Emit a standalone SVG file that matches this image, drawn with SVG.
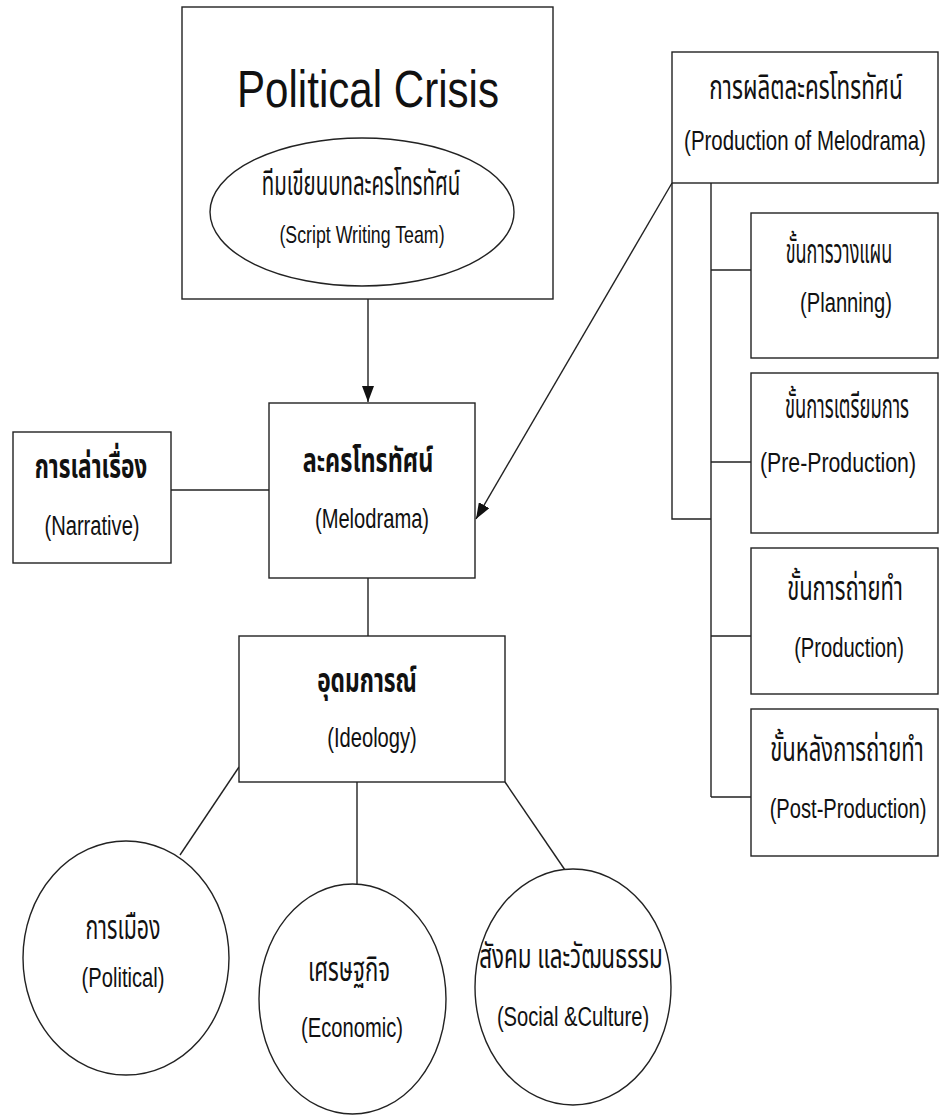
<svg xmlns="http://www.w3.org/2000/svg" width="939" height="1115" viewBox="0 0 939 1115">
<defs>
<marker id="arr" markerUnits="userSpaceOnUse" markerWidth="18" markerHeight="12" refX="16" refY="6" orient="auto">
<path d="M0,0 L16,6 L0,12 Z" fill="#111"/>
</marker>
<style>
.box{fill:#fff;stroke:#222;stroke-width:1.4}
.ln{fill:none;stroke:#222;stroke-width:1.4}
.en{font-family:"Liberation Sans",Arial,sans-serif;font-size:28px;fill:#111;text-anchor:middle}
.th{font-family:"Noto Sans Thai","Noto Sans","DejaVu Sans",sans-serif;font-size:34px;fill:#111;text-anchor:middle}
.b{font-weight:bold}
</style>
</defs>
<rect width="939" height="1115" fill="#fff"/>
<g id="connectors">
<line class="ln" x1="368" y1="299" x2="368" y2="402" marker-end="url(#arr)"/>
<line class="ln" x1="672" y1="183" x2="476" y2="519" marker-end="url(#arr)"/>
<line class="ln" x1="171" y1="490" x2="269" y2="490"/>
<line class="ln" x1="368" y1="578" x2="368" y2="636"/>
<line class="ln" x1="239" y1="767" x2="180" y2="855"/>
<line class="ln" x1="357" y1="782" x2="357" y2="884"/>
<line class="ln" x1="505" y1="782" x2="565" y2="870"/>
<path class="ln" d="M672,183 V519 H711"/>
<path class="ln" d="M711,183 V797 M711,270 H751 M711,462 H751 M711,636 H751 M711,797 H751"/>
</g>
<g id="political-crisis">
<rect class="box" x="182" y="7" width="371" height="292"/>
<text class="en" style="font-size:52px" transform="translate(368,107) scale(0.81,1)">Political Crisis</text>
</g>
<g id="script-team">
<ellipse class="box" cx="362" cy="212" rx="152" ry="74"/>
<text class="th" transform="translate(361,195) scale(0.6,1)">ทีมเขียนบทละครโทรทัศน์</text>
<text class="en" style="font-size:24px" transform="translate(362,243) scale(0.74,1)">(Script Writing Team)</text>
</g>
<g id="production">
<rect class="box" x="672" y="52" width="266" height="131"/>
<text class="th" transform="translate(806,99) scale(0.66,1)">การผลิตละครโทรทัศน์</text>
<text class="en" transform="translate(805,150) scale(0.73,1)">(Production of Melodrama)</text>
</g>
<g id="planning">
<rect class="box" x="751" y="213" width="187" height="145"/>
<text class="th" transform="translate(839,263) scale(0.53,1)">ขั้นการวางแผน</text>
<text class="en" transform="translate(846,312) scale(0.72,1)">(Planning)</text>
</g>
<g id="pre-production">
<rect class="box" x="751" y="373" width="187" height="160"/>
<text class="th" transform="translate(847,418) scale(0.54,1)">ขั้นการเตรียมการ</text>
<text class="en" transform="translate(838,472) scale(0.76,1)">(Pre-Production)</text>
</g>
<g id="production-stage">
<rect class="box" x="751" y="548" width="187" height="146"/>
<text class="th" transform="translate(845,600) scale(0.646,1)">ขั้นการถ่ายทำ</text>
<text class="en" transform="translate(849,657) scale(0.72,1)">(Production)</text>
</g>
<g id="post-production">
<rect class="box" x="751" y="709" width="187" height="147"/>
<text class="th" transform="translate(847,761) scale(0.648,1)">ขั้นหลังการถ่ายทำ</text>
<text class="en" transform="translate(848,818) scale(0.72,1)">(Post-Production)</text>
</g>
<g id="narrative">
<rect class="box" x="13" y="432" width="158" height="131"/>
<text class="th b" transform="translate(91,478) scale(0.667,1)">การเล่าเรื่อง</text>
<text class="en" transform="translate(92,535) scale(0.72,1)">(Narrative)</text>
</g>
<g id="melodrama">
<rect class="box" x="269" y="403" width="206" height="175"/>
<text class="th b" transform="translate(368,472) scale(0.688,1)">ละครโทรทัศน์</text>
<text class="en" transform="translate(372,528) scale(0.72,1)">(Melodrama)</text>
</g>
<g id="ideology">
<rect class="box" x="239" y="636" width="266" height="146"/>
<text class="th b" transform="translate(367,692) scale(0.669,1)">อุดมการณ์</text>
<text class="en" transform="translate(372,747) scale(0.72,1)">(Ideology)</text>
</g>
<g id="political">
<ellipse class="box" cx="126" cy="958" rx="103" ry="117"/>
<text class="th" transform="translate(123,939) scale(0.627,1)">การเมือง</text>
<text class="en" transform="translate(123,987) scale(0.72,1)">(Political)</text>
</g>
<g id="economic">
<ellipse class="box" cx="352.5" cy="999" rx="93.5" ry="115"/>
<text class="th" transform="translate(349,981) scale(0.65,1)">เศรษฐกิจ</text>
<text class="en" transform="translate(352,1037) scale(0.72,1)">(Economic)</text>
</g>
<g id="social">
<ellipse class="box" cx="573" cy="987" rx="98" ry="118"/>
<text class="th" transform="translate(571,968) scale(0.658,1)">สังคม และวัฒนธรรม</text>
<text class="en" transform="translate(573,1026) scale(0.72,1)">(Social &amp;Culture)</text>
</g>
</svg>
